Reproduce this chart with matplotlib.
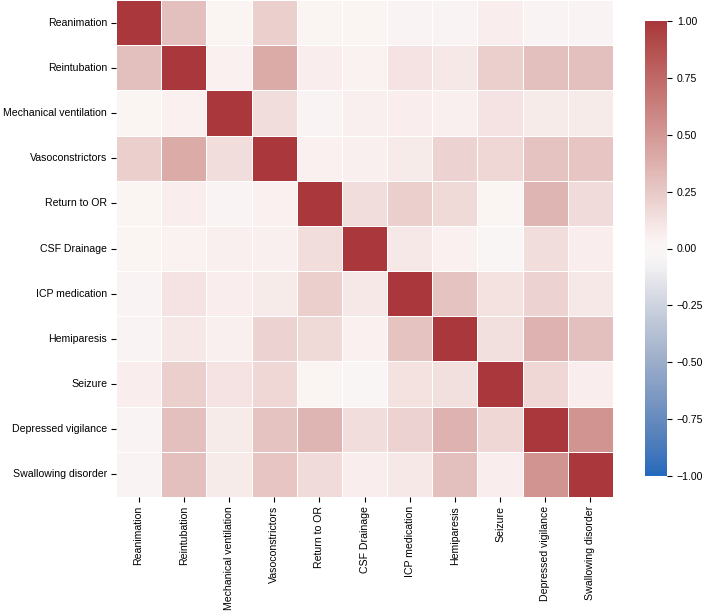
import numpy as np
import matplotlib
matplotlib.use("Agg")
import matplotlib.pyplot as plt
import seaborn as sns

labels = ["Reanimation", "Reintubation", "Mechanical ventilation", "Vasoconstrictors",
          "Return to OR", "CSF Drainage", "ICP medication", "Hemiparesis", "Seizure",
          "Depressed vigilance", "Swallowing disorder"]

# upper triangle values (row i, columns j>i)
upper = [
    [0.30, 0.02, 0.22, 0.02, 0.02, 0.03, 0.03, 0.07, 0.03, 0.03],
    [0.05, 0.40, 0.07, 0.04, 0.12, 0.10, 0.22, 0.30, 0.30],
    [0.15, 0.03, 0.06, 0.07, 0.06, 0.12, 0.08, 0.08],
    [0.05, 0.06, 0.08, 0.20, 0.18, 0.28, 0.27],
    [0.15, 0.22, 0.17, 0.02, 0.35, 0.16],
    [0.10, 0.05, -0.01, 0.15, 0.07],
    [0.28, 0.13, 0.20, 0.10],
    [0.14, 0.36, 0.30],
    [0.18, 0.07],
    [0.52],
]

n = len(labels)
corr = np.eye(n)
for i, row in enumerate(upper):
    for k, v in enumerate(row):
        j = i + 1 + k
        corr[i, j] = v
        corr[j, i] = v

plt.rcParams['font.family'] = ['Liberation Sans', 'DejaVu Sans']
fig = plt.figure(figsize=(7.08, 6.14), dpi=100)
W, H = 708, 614
ax = fig.add_axes([116 / W, 1 - 497 / H, 497 / W, 497 / H])
cax = fig.add_axes([645 / W, 1 - 476 / H, 22 / W, 455 / H])

sns.heatmap(corr, ax=ax, cbar_ax=cax, cmap="vlag", vmin=-1, vmax=1,
            linewidths=0.5, linecolor="white",
            xticklabels=labels, yticklabels=labels)
ax.tick_params(axis='both', labelsize=7.6, length=3.5, width=0.8, pad=3)
ax.set_xticklabels(labels, rotation=90)
ax.set_yticklabels(labels, rotation=0)
cax.tick_params(labelsize=7.6, length=3.5, width=0.8)
cax.set_yticks([-1, -0.75, -0.5, -0.25, 0, 0.25, 0.5, 0.75, 1])
cax.set_yticklabels(["\u22121.00", "\u22120.75", "\u22120.50", "\u22120.25", "0.00", "0.25", "0.50", "0.75", "1.00"])

fig.savefig("out.png", dpi=100)
